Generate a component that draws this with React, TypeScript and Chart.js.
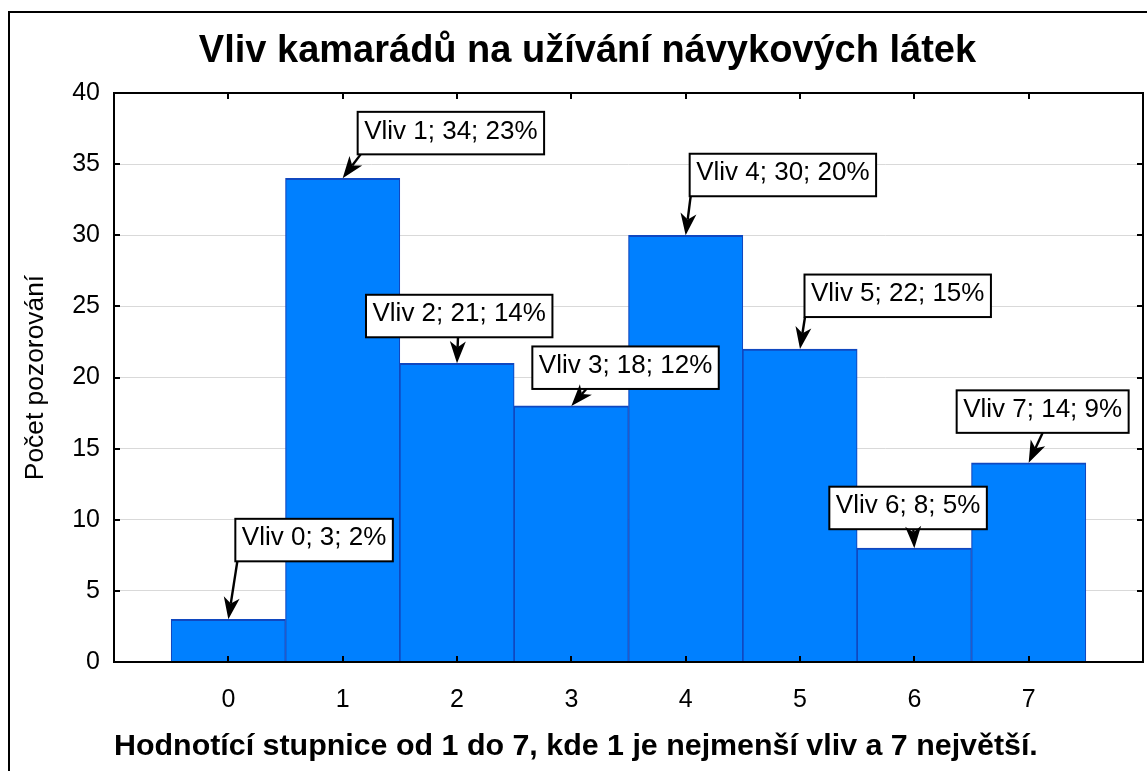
import React, { useEffect, useRef } from "react";
import { Chart, registerables } from "chart.js";

Chart.register(...registerables);

// ---------- data ----------
const TITLE = "Vliv kamarádů na užívání návykových látek";
const X_TITLE = "Hodnotící stupnice od 1 do 7, kde 1 je nejmenší vliv a 7 největší.";
const Y_TITLE = "Počet pozorování";
const LABEL_PREFIX = "Vliv";
const CATEGORIES = [0, 1, 2, 3, 4, 5, 6, 7];
const COUNTS = [3, 34, 21, 18, 30, 22, 8, 14];
const PERCENTS = [2, 23, 14, 12, 20, 15, 5, 9];
const Y_TICKS = [0, 5, 10, 15, 20, 25, 30, 35, 40];

// ---------- label placement (pixels, relative to the bar top) ----------
const LABEL_BOX_DX = [7, 15, -91, -39, 4, 4.5, -85, -72];
const LABEL_BOX_DY = [-58, -24, -26, -17, -39, -32, -19, -30];
const ARROW_START_DX = [9, 18, 1, 15, 5, 5, -1, 14];

const FONT = "'Liberation Sans', Arial, sans-serif";

function drawArrow(ctx: CanvasRenderingContext2D, sx: number, sy: number, tx: number, ty: number) {
  const ang = Math.atan2(ty - sy, tx - sx);
  const head = 22, half = 8, notch = 6;
  const cos = Math.cos(ang), sin = Math.sin(ang);
  const bx = tx - head * cos, by = ty - head * sin;
  const nx = tx - (head - notch) * cos, ny = ty - (head - notch) * sin;
  ctx.beginPath();
  ctx.moveTo(sx, sy);
  ctx.lineTo(nx, ny);
  ctx.stroke();
  ctx.beginPath();
  ctx.moveTo(tx, ty);
  ctx.lineTo(bx - half * sin, by + half * cos);
  ctx.lineTo(nx, ny);
  ctx.lineTo(bx + half * sin, by - half * cos);
  ctx.closePath();
  ctx.fill();
}

const decorPlugin = {
  id: "decor",
  beforeDraw(chart: any) {
    const { ctx, width, height } = chart;
    ctx.save();
    ctx.fillStyle = "#fff";
    ctx.fillRect(0, 0, width, height);
    ctx.strokeStyle = "#000";
    ctx.lineWidth = 2;
    ctx.beginPath();
    ctx.moveTo(9, height + 5);
    ctx.lineTo(9, 12);
    ctx.lineTo(width + 5, 12);
    ctx.stroke();
    ctx.restore();
  },
  afterDatasetsDraw(chart: any) {
    const { ctx, chartArea: a, scales } = chart;
    ctx.save();
    ctx.strokeStyle = "#000";
    ctx.lineWidth = 2;
    ctx.strokeRect(a.left, a.top, a.right - a.left, a.bottom - a.top);
    const L = 6;
    ctx.beginPath();
    CATEGORIES.forEach((c) => {
      const x = Math.round(scales.x.getPixelForValue(c));
      ctx.moveTo(x, a.bottom);
      ctx.lineTo(x, a.bottom - L);
      ctx.moveTo(x, a.top);
      ctx.lineTo(x, a.top + L);
    });
    Y_TICKS.forEach((v) => {
      const y = Math.round(scales.y.getPixelForValue(v));
      ctx.moveTo(a.left, y);
      ctx.lineTo(a.left + L, y);
      ctx.moveTo(a.right, y);
      ctx.lineTo(a.right - L, y);
    });
    ctx.stroke();

    // annotation boxes with arrows
    const meta = chart.getDatasetMeta(0);
    ctx.font = `26px ${FONT}`;
    ctx.textBaseline = "middle";
    ctx.textAlign = "left";
    const boxH = 42.5;
    const pad = 6.5;
    const items = meta.data.map((el: any, i: number) => {
      const text = `${LABEL_PREFIX} ${CATEGORIES[i]}; ${COUNTS[i]}; ${PERCENTS[i]}%`;
      const w = ctx.measureText(text).width + pad * 2;
      const left = el.x + LABEL_BOX_DX[i];
      const bottom = el.y + LABEL_BOX_DY[i];
      return { text, w, left, bottom, tx: el.x, ty: el.y, sx: el.x + ARROW_START_DX[i] };
    });
    items.forEach((it: any) => {
      ctx.fillStyle = "#fff";
      ctx.fillRect(it.left, it.bottom - boxH, it.w, boxH);
      ctx.strokeStyle = "#000";
      ctx.lineWidth = 2;
      ctx.strokeRect(it.left, it.bottom - boxH, it.w, boxH);
      ctx.fillStyle = "#000";
      ctx.fillText(it.text, it.left + pad, it.bottom - boxH + 19.5);
    });
    ctx.fillStyle = "#000";
    ctx.strokeStyle = "#000";
    ctx.lineWidth = 2.4;
    items.forEach((it: any) => {
      drawArrow(ctx, it.sx, it.bottom, it.tx, it.ty);
    });
    ctx.restore();
  },
};

export default function App() {
  const ref = useRef<HTMLCanvasElement | null>(null);

  useEffect(() => {
    document.body.style.margin = "0";
    const canvas = ref.current;
    if (!canvas) return;
    const chart = new Chart(canvas, {
      type: "bar",
      data: {
        datasets: [
          {
            data: CATEGORIES.map((c, i) => ({ x: c, y: COUNTS[i] })),
            backgroundColor: "#0080FF",
            borderColor: "#1048C0",
            borderWidth: { top: 2, left: 1.2, right: 1.2, bottom: 0 },
            borderSkipped: "start",
            barPercentage: 1,
            categoryPercentage: 1,
          } as any,
        ],
      },
      options: {
        animation: false,
        responsive: false,
        devicePixelRatio: 1,
        layout: { padding: { left: 32, right: 4, top: 0, bottom: 0 } },
        plugins: {
          legend: { display: false },
          tooltip: { enabled: false },
          title: {
            display: true,
            text: TITLE,
            color: "#000",
            font: { family: FONT, size: 38, weight: "bold" },
            padding: { top: 29, bottom: 18.4 },
          },
        },
        scales: {
          x: {
            type: "linear",
            min: -1,
            max: 8,
            offset: false,
            afterBuildTicks: (scale: any) => {
              scale.ticks = CATEGORIES.map((v) => ({ value: v }));
            },
            afterFit: (scale: any) => {
              scale.height = 109;
            },
            ticks: {
              color: "#000",
              font: { family: FONT, size: 25 },
              padding: 23.5,
              maxRotation: 0,
              autoSkip: false,
              callback: (v: any) => String(v),
            },
            grid: { display: false, drawTicks: false, offset: false },
            border: { display: false },
            title: {
              display: true,
              text: X_TITLE,
              align: "start",
              color: "#000",
              font: { family: FONT, size: 30.4, weight: "bold" },
              padding: { top: 0, bottom: 6 },
            },
          },
          y: {
            type: "linear",
            min: 0,
            max: 40,
            afterBuildTicks: (scale: any) => {
              scale.ticks = Y_TICKS.map((v) => ({ value: v }));
            },
            afterFit: (scale: any) => {
              scale.width = 82;
            },
            ticks: {
              color: "#000",
              font: { family: FONT, size: 25 },
              padding: 14,
              callback: (v: any) => String(v),
            },
            grid: { color: "#d9d9d9", lineWidth: 1, drawTicks: false },
            border: { display: false },
            title: {
              display: true,
              text: Y_TITLE,
              color: "#000",
              font: { family: FONT, size: 26.4 },
              padding: { top: -11.9, bottom: 0 },
            },
          },
        },
      } as any,
      plugins: [decorPlugin],
    });
    return () => chart.destroy();
  }, []);

  return (
    <div style={{ width: 1147, height: 771 }}>
      <canvas ref={ref} width={1147} height={771} style={{ display: "block" }} />
    </div>
  );
}
